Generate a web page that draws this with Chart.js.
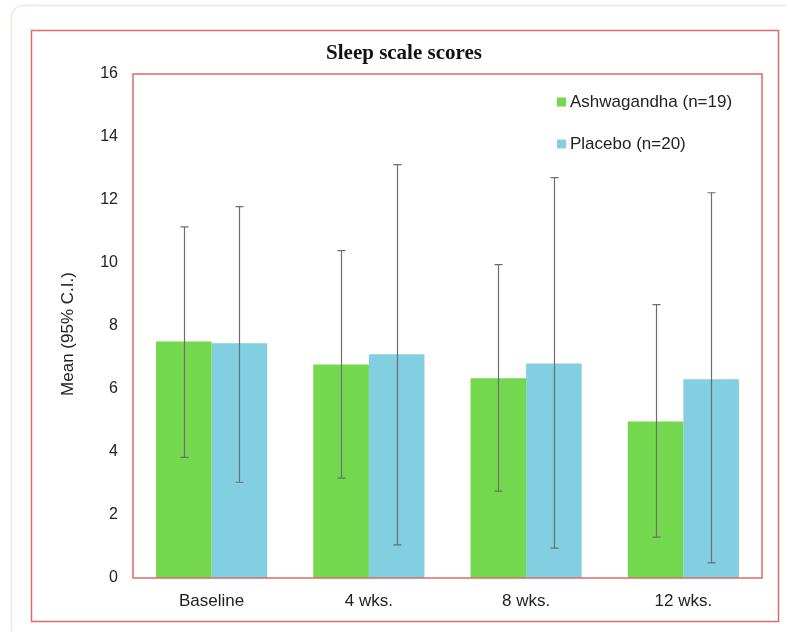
<!DOCTYPE html>
<html>
<head>
<meta charset="utf-8">
<script src="https://cdn.jsdelivr.net/npm/chart.js@4.4.1/dist/chart.umd.min.js"></script>
<style>
  html, body { margin: 0; padding: 0; background: #ffffff; }
  #c { display: block; }
</style>
</head>
<body>
<canvas id="c" width="788" height="632"></canvas>
<script>
const categories = ['Baseline', '4 wks.', '8 wks.', '12 wks.'];
const seriesNames = ['Ashwagandha (n=19)', 'Placebo (n=20)'];
const ashwaMean = [7.51, 6.78, 6.34, 4.97];
const ashwaLow = [3.83, 3.17, 2.76, 1.30];
const ashwaHigh = [11.15, 10.39, 9.95, 8.68];
const placeboMean = [7.45, 7.10, 6.81, 6.31];
const placeboLow = [3.04, 1.05, 0.95, 0.48];
const placeboHigh = [11.79, 13.12, 12.71, 12.23];
const yTickValues = [0, 2, 4, 6, 8, 10, 12, 14, 16];
const chartTitle = 'Sleep scale scores';
const yAxisTitle = 'Mean (95% C.I.)';

const GREEN = '#74d84f';
const BLUE = '#81cfe0';
const RED = '#de6a6a';
const TEXT = '#222222';

const errLow = [ashwaLow, placeboLow];
const errHigh = [ashwaHigh, placeboHigh];

const decor = {
  id: 'decor',
  beforeDraw(chart) {
    const ctx = chart.ctx;
    ctx.save();
    ctx.fillStyle = '#ffffff';
    ctx.fillRect(0, 0, chart.width, chart.height);
    // faint card outline
    ctx.strokeStyle = '#f6e2d8';
    ctx.lineWidth = 1.5;
    const r = 12, x0 = 11.5, y0 = 5.5, x1 = 786, y1 = 631;
    ctx.beginPath();
    ctx.moveTo(x0 + r, y0);
    ctx.lineTo(x1, y0);
    ctx.moveTo(x0, y0 + r);
    ctx.lineTo(x0, y1);
    ctx.moveTo(x0, y0 + r);
    ctx.arcTo(x0, y0, x0 + r, y0, r);
    ctx.stroke();
    // outer red border
    ctx.strokeStyle = RED;
    ctx.lineWidth = 1.5;
    ctx.strokeRect(31.5, 30.5, 747, 591);
    ctx.restore();
  },
  afterDatasetsDraw(chart) {
    const ctx = chart.ctx;
    const ya = chart.scales.y;
    ctx.save();
    // error bars
    ctx.strokeStyle = '#6e6e6e';
    ctx.lineWidth = 1.2;
    for (let d = 0; d < 2; d++) {
      const meta = chart.getDatasetMeta(d);
      meta.data.forEach((bar, j) => {
        const x = Math.round(bar.x) + 0.5;
        const yl = ya.getPixelForValue(errLow[d][j]);
        const yh = ya.getPixelForValue(errHigh[d][j]);
        ctx.beginPath();
        ctx.moveTo(x, yl);
        ctx.lineTo(x, yh);
        ctx.moveTo(x - 4, yh);
        ctx.lineTo(x + 4, yh);
        ctx.moveTo(x - 4, yl);
        ctx.lineTo(x + 4, yl);
        ctx.stroke();
      });
    }
    // plot area border
    const a = chart.chartArea;
    ctx.strokeStyle = RED;
    ctx.lineWidth = 1.5;
    ctx.strokeRect(a.left, a.top, a.right - a.left, a.bottom - a.top);
    ctx.restore();
  },
  afterDraw(chart) {
    const ctx = chart.ctx;
    ctx.save();
    // title
    ctx.fillStyle = '#111111';
    ctx.font = 'bold 21px "Liberation Serif", "Times New Roman", serif';
    ctx.textAlign = 'center';
    ctx.textBaseline = 'middle';
    ctx.fillText(chartTitle, 404, 54);
    // y axis title
    ctx.fillStyle = TEXT;
    ctx.font = '17px "Liberation Sans", Arial, sans-serif';
    ctx.translate(68, 334);
    ctx.rotate(-Math.PI / 2);
    ctx.fillText(yAxisTitle, 0, 0);
    ctx.restore();
    // legend
    ctx.save();
    const colors = [GREEN, BLUE];
    const ys = [102, 144];
    ctx.font = '17px "Liberation Sans", Arial, sans-serif';
    ctx.textAlign = 'left';
    ctx.textBaseline = 'middle';
    for (let i = 0; i < 2; i++) {
      ctx.fillStyle = colors[i];
      ctx.fillRect(557, ys[i] - 4.5, 9, 9);
      ctx.fillStyle = TEXT;
      ctx.fillText(seriesNames[i], 570, ys[i]);
    }
    ctx.restore();
  }
};

new Chart(document.getElementById('c'), {
  type: 'bar',
  data: {
    labels: categories,
    datasets: [
      { label: seriesNames[0], data: ashwaMean, backgroundColor: GREEN, borderWidth: 0,
        categoryPercentage: 0.707, barPercentage: 1.0 },
      { label: seriesNames[1], data: placeboMean, backgroundColor: BLUE, borderWidth: 0,
        categoryPercentage: 0.707, barPercentage: 1.0 }
    ]
  },
  options: {
    responsive: false,
    animation: false,
    devicePixelRatio: 1,
    layout: { padding: { left: 0, top: 74, right: 26, bottom: 0 } },
    plugins: {
      legend: { display: false },
      title: { display: false },
      tooltip: { enabled: false }
    },
    scales: {
      x: {
        grid: { display: false, drawTicks: false },
        border: { display: false },
        ticks: {
          color: TEXT,
          padding: 13,
          font: { family: '"Liberation Sans", Arial, sans-serif', size: 17 }
        },
        afterFit(s) { s.height = 54; }
      },
      y: {
        min: 0,
        max: 16,
        grid: { display: false, drawTicks: false },
        border: { display: false },
        afterBuildTicks(s) { s.ticks = yTickValues.map(v => ({ value: v })); },
        ticks: {
          color: TEXT,
          padding: 15,
          font: { family: '"Liberation Sans", Arial, sans-serif', size: 16 }
        },
        afterFit(s) { s.width = 133; }
      }
    }
  },
  plugins: [decor]
});
</script>
</body>
</html>
